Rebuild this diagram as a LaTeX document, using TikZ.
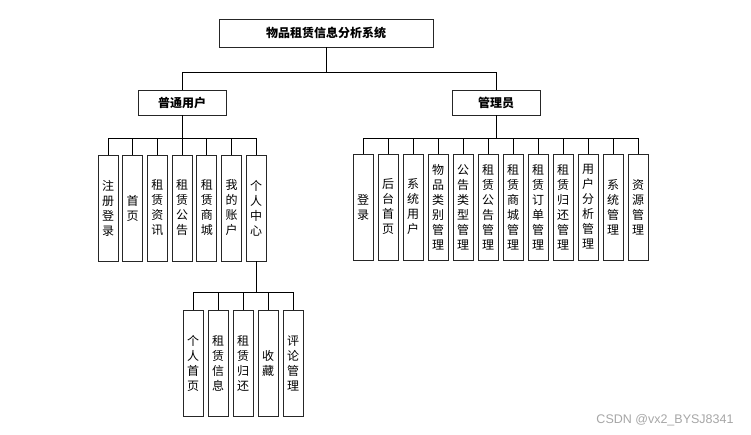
\documentclass[tikz,border=0pt]{standalone}
\usepackage{fontspec}
\setmainfont{Noto Sans CJK SC}
\newfontfamily\wmfont{Liberation Sans}
\begin{document}
\begin{tikzpicture}[x=1pt, y=-1pt]

    \tikzset{%
    every box/.style={
        draw=black!85,
        line width=0.9pt,
        fill=white,
        inner sep=0pt
        },
    top box/.style={
        every box,
        minimum width=214pt,
        minimum height=28pt,
        font=\fontsize{12}{14}\selectfont\bfseries
        },
    role box/.style={
        every box,
        minimum width=88pt,
        minimum height=25pt,
        font=\fontsize{12}{14}\selectfont\bfseries
        },
    leaf box/.style={
        every box,
        minimum width=20pt,
        minimum height=106pt,
        align=center,
        font=\fontsize{12}{15}\selectfont
        },
    link/.style={
        draw=black,
        line width=0.9pt
        },
    }

    \useasboundingbox (0,0) rectangle (751,434);

    % System and role boxes
    \node [top box] (root) at (326,33) {物品租赁信息分析系统};
    \node [role box] (user) at (182,102.5) {普通用户};
    \node [role box] (admin) at (496,102.5) {管理员};

    % Root to roles
    \draw [link] (root.south) -- ++(0,25) -| (user.north);
    \draw [link] (root.south) -- ++(0,25) -| (admin.north);

    % Normal user leaf boxes
    \foreach \l [count=\i] in {{注\\册\\登\\录},{首\\页},{租\\赁\\资\\讯},{租\\赁\\公\\告},{租\\赁\\商\\城},{我\\的\\账\\户},{个\\人\\中\\心}}
    \node [leaf box] (user-\i) at (108+24.7*\i-24.7,208) {\l};

    % Admin leaf boxes
    \foreach \l [count=\i] in {{登\\录},{后\\台\\首\\页},{系\\统\\用\\户},{物\\品\\类\\别\\管\\理},{公\\告\\类\\型\\管\\理},{租\\赁\\公\\告\\管\\理},{租\\赁\\商\\城\\管\\理},{租\\赁\\订\\单\\管\\理},{租\\赁\\归\\还\\管\\理},{用\\户\\分\\析\\管\\理},{系\\统\\管\\理},{资\\源\\管\\理}}
    \node [leaf box] (admin-\i) at (363+25*\i-25,207) {\l};

    % Personal center leaf boxes
    \foreach \l [count=\i] in {{个\\人\\首\\页},{租\\赁\\信\\息},{租\\赁\\归\\还},{收\\藏},{评\\论\\管\\理}}
    \node [leaf box] (center-\i) at (193+25*\i-25,363.5) {\l};

    % Connectors to leaves
    \foreach \i in {1,...,7} \draw [link] (user.south) -- ++(0,23) -| (user-\i.north);
    \foreach \i in {1,...,12} \draw [link] (admin.south) -- ++(0,22.5) -| (admin-\i.north);
    \foreach \i in {1,...,5} \draw [link] (user-7.south) -- ++(0,31) -| (center-\i.north);

    % Watermark
    \node [text=black!35, font=\wmfont\fontsize{12.5}{14}\selectfont] (mark) at (665,420) {CSDN @vx2\_BYSJ8341};

\end{tikzpicture}
\end{document}
